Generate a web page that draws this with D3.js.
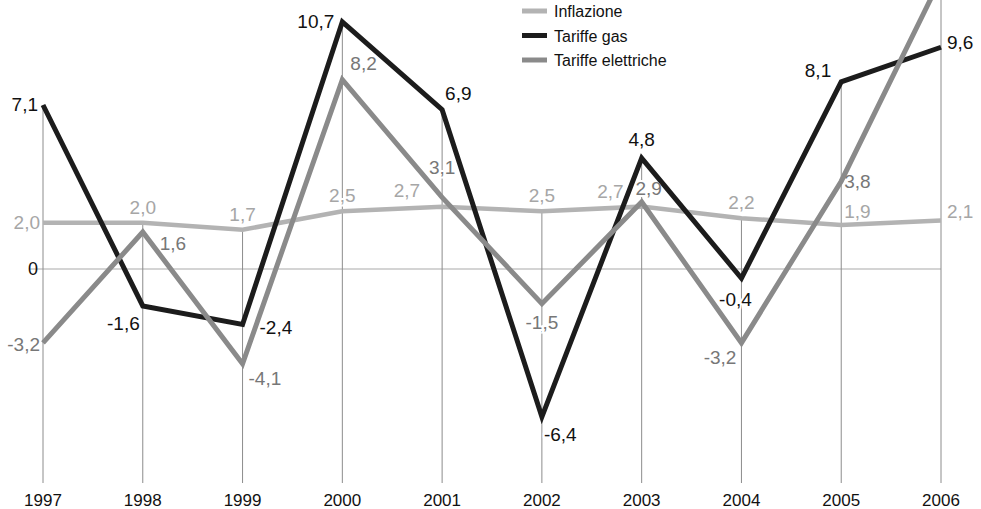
<!DOCTYPE html>
<html>
<head>
<meta charset="utf-8">
<script src="https://cdn.jsdelivr.net/npm/d3@7"></script>
<style>
  html, body { margin: 0; padding: 0; background: #fff; }
  svg { display: block; font-family: "Liberation Sans", Arial, Helvetica, sans-serif; }
</style>
</head>
<body>
<svg id="chart" width="981" height="509"></svg>
<script>
// Variazioni percentuali annue
const years = ["1997","1998","1999","2000","2001","2002","2003","2004","2005","2006"];
const inflazione = [2.0, 2.0, 1.7, 2.5, 2.7, 2.5, 2.7, 2.2, 1.9, 2.1];
const gas        = [7.1, -1.6, -2.4, 10.7, 6.9, -6.4, 4.8, -0.4, 8.1, 9.6];
const elettriche = [-3.2, 1.6, -4.1, 8.2, 3.1, -1.5, 2.9, -3.2, 3.8, 12.6];

// Label placement per point: [dx, dy, anchor]; null = no label
const posInfl = [[-3,6,"end"],[0,-9,"middle"],[0,-9,"middle"],[0,-9,"middle"],[-22,-10,"end"],[0,-9,"middle"],[-18,-9,"end"],[0,-9,"middle"],[3,-7,"start"],[6,-2,"start"]];
const posGas  = [[-5,6,"end"],[-3,24,"end"],[17,10,"start"],[-8,6,"end"],[3,-10,"start"],[2,24,"start"],[0,-12,"middle"],[-6,28,"middle"],[-10,-5,"end"],[6,2,"start"]];
const posEl   = [[-3,8,"end"],[17,18,"start"],[6,21,"start"],[8,-10,"start"],[0,-23,"middle"],[0,25,"middle"],[7,-7,"middle"],[-5,21,"end"],[3,7,"start"],null];

const fmt = v => v.toFixed(1).replace(".", ",");

const svg = d3.select("#chart");
const x = d3.scalePoint().domain(years).range([43, 941]);
const y = d3.scaleLinear().domain([0, 10]).range([269, 38]);

const series = [
  { name: "Inflazione", values: inflazione, color: "#b3b3b3", text: "#a6a6a6", w: 4.5, pos: posInfl },
  { name: "Tariffe gas", values: gas, color: "#1c1c1c", text: "#111", w: 5, pos: posGas },
  { name: "Tariffe elettriche", values: elettriche, color: "#8a8a8a", text: "#777", w: 5, pos: posEl }
];

// Zero reference line
svg.append("line")
  .attr("x1", 30).attr("x2", x("2006"))
  .attr("y1", y(0)).attr("y2", y(0))
  .attr("stroke", "#aaa").attr("stroke-width", 1.2);
svg.append("text")
  .attr("x", 38).attr("y", y(0) + 6)
  .attr("text-anchor", "end").attr("font-size", 18).attr("fill", "#111")
  .text("0");

// Vertical guides from the highest value of each year down to the axis labels
years.forEach((yr, i) => {
  const top = Math.max(inflazione[i], gas[i], elettriche[i]);
  svg.append("line")
    .attr("x1", x(yr)).attr("x2", x(yr))
    .attr("y1", Math.max(0, y(top))).attr("y2", 483)
    .attr("stroke", "#8c8c8c").attr("stroke-width", 1);
  svg.append("text")
    .attr("x", x(yr)).attr("y", 506)
    .attr("text-anchor", "middle").attr("font-size", 17).attr("fill", "#111")
    .text(yr);
});

function drawLabels(layer, halo) {
  series.forEach(s => {
    s.values.forEach((v, i) => {
      const p = s.pos[i];
      if (!p) return;
      const t = layer.append("text")
        .attr("x", x(years[i]) + p[0])
        .attr("y", y(v) + p[1])
        .attr("text-anchor", p[2])
        .attr("font-size", 19)
        .text(fmt(v));
      if (halo) t.attr("fill", "#fff").attr("stroke", "#fff").attr("stroke-width", 4);
      else t.attr("fill", s.text);
    });
  });
}

// White knock-out behind the value labels so guides break around them
drawLabels(svg.append("g"), true);

const line = d3.line().x((d, i) => x(years[i])).y(d => y(d));

series.forEach(s => {
  svg.append("path")
    .datum(s.values)
    .attr("d", line)
    .attr("fill", "none")
    .attr("stroke", s.color)
    .attr("stroke-width", s.w)
    .attr("stroke-linejoin", "miter");
});

drawLabels(svg.append("g"), false);

// Legend
const legend = svg.append("g").attr("transform", "translate(522,11)");
series.forEach((s, i) => {
  const g = legend.append("g").attr("transform", `translate(0,${i * 24.5})`);
  g.append("line").attr("x1", 0).attr("x2", 25).attr("y1", 0).attr("y2", 0)
    .attr("stroke", s.color).attr("stroke-width", 5);
  g.append("text").attr("x", 32).attr("y", 6)
    .attr("font-size", 16).attr("fill", "#111").text(s.name);
});
</script>
</body>
</html>
